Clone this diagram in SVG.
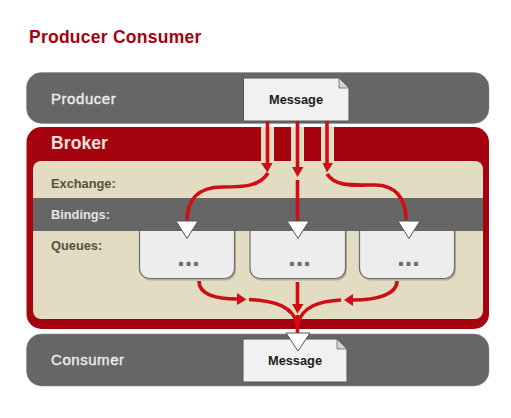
<svg xmlns="http://www.w3.org/2000/svg" width="511" height="418" viewBox="0 0 511 418">
<style>
text{font-family:"Liberation Sans",Arial,sans-serif;font-weight:700}
.bar{fill:#666;stroke:#8a8a8a;stroke-width:.5}
.lbl{font-size:15px;fill:#ececec;font-weight:400;stroke:#ececec;stroke-width:.4;letter-spacing:.55px}
.sm{font-size:12.800px}
.dk{fill:#55513f}
.wt{fill:#e4e4e4}
.msg{font-size:12.800px;fill:#1c1c1c;text-anchor:middle}
.doc{fill:#f1f1f1;stroke:#555;stroke-width:1}
.fold{fill:#d4d4d4;stroke:#555;stroke-width:.7}
.q{fill:#ededed;stroke:#6f6f6a;stroke-width:1.2}
.qs{fill:#8a8770;opacity:.55}
.dots{font-size:27px;fill:#6f6f6f;text-anchor:middle}
.tri{fill:#fff;stroke:#555;stroke-width:1;stroke-linejoin:round}
.r{fill:none;stroke:#cf0d14;stroke-width:3.6}
.h{fill:#cf0d14;stroke:none}
</style>
<rect width="511" height="418" fill="#fff"/>
<text x="29" y="43" font-size="17.500" letter-spacing=".25" fill="#a8000e" id="title">Producer Consumer</text>
<g id="broker">
<rect x="26.500" y="127" width="462.500" height="202" rx="15" fill="#a5040e"/>
<rect x="33" y="161" width="450" height="158" rx="8" fill="#e2dcc2"/>
<rect x="261" y="127" width="13" height="35" fill="#e2dcc2"/>
<rect x="291" y="127" width="13" height="35" fill="#e2dcc2"/>
<rect x="321" y="127" width="13" height="35" fill="#e2dcc2"/>
<text x="51" y="149" font-size="17.500" letter-spacing=".1" fill="#f0e0e0">Broker</text>
<text x="51" y="188" class="sm dk">Exchange:</text>
<text x="51" y="250" class="sm dk">Queues:</text>
</g>
<g id="producer">
<rect class="bar" x="26.500" y="72.500" width="462.500" height="51" rx="15"/>
<text x="51" y="104" class="lbl">Producer</text>
<path class="doc" d="M243.500 78H339L349 88V121H243.500Z"/>
<path class="fold" d="M339 78V88H349Z"/>
<text x="296" y="104" class="msg">Message</text>
</g>
<g id="consumer">
<rect class="bar" x="26.500" y="334" width="462.500" height="52" rx="15"/>
<text x="51" y="365" class="lbl">Consumer</text>
<path class="doc" d="M243 339H337L347 349V382H243Z"/>
<path class="fold" d="M337 339V349H347Z"/>
<text x="295" y="365" class="msg">Message</text>
</g>
<g id="queue1"><rect class="qs" x="140.500" y="216.500" width="95.500" height="64" rx="10"/><rect class="q" x="139.500" y="215" width="95" height="63.500" rx="10"/><text x="188.500" y="266" class="dots">...</text></g>
<g id="queue2"><rect class="qs" x="251" y="216.500" width="96" height="64" rx="10"/><rect class="q" x="250" y="215" width="95.500" height="63.500" rx="10"/><text x="299.500" y="266" class="dots">...</text></g>
<g id="queue3"><rect class="qs" x="360.500" y="216.500" width="95.500" height="64" rx="10"/><rect class="q" x="359.500" y="215" width="95" height="63.500" rx="10"/><text x="408.500" y="266" class="dots">...</text></g>
<g id="bindings">
<rect x="33" y="198" width="450" height="33" fill="#666"/>
<text x="51" y="219" class="sm wt">Bindings:</text>
</g>
<g id="connectors">
<path class="r" d="M267.500 121V164M297.500 121V168M327 121V164"/>
<path class="h" d="M261 163H272.500L267.500 172.500ZM292 167H303.500L297.500 177ZM322.500 163H333L327 172.500Z"/>
<path class="r" d="M268 173C260 186 245 187 222 187C198 187 187 200 187 221"/>
<path class="r" d="M297.500 180V222"/>
<path class="r" d="M327 174C336 187 352 185 375 185C395 185 406 198 406 220"/>
<path class="r" d="M199 281C199 294 215 299 238 299"/>
<path class="h" d="M237 293V305L246.500 299.500Z"/>
<path class="r" d="M397 281C397 294 378 300 353 300"/>
<path class="h" d="M353 294V306L344 300Z"/>
<path class="r" d="M297.500 282V305"/>
<path class="h" d="M292 304H303.500L297.500 313.500Z"/>
<path class="r" d="M249 299.500C275 301 293 306 297.500 325"/>
<path class="r" d="M341 300C320 301 302 306 297.500 325"/>
<path class="r" d="M297.500 315V334"/>
</g>
<g id="triangles">
<path class="tri" d="M176 221H198L187 238.500Z"/>
<path class="tri" d="M287 221H309L298 238.500Z"/>
<path class="tri" d="M398 221H420L409 238.500Z"/>
<path class="tri" d="M286 333H310L298 351Z"/>
</g>
</svg>
